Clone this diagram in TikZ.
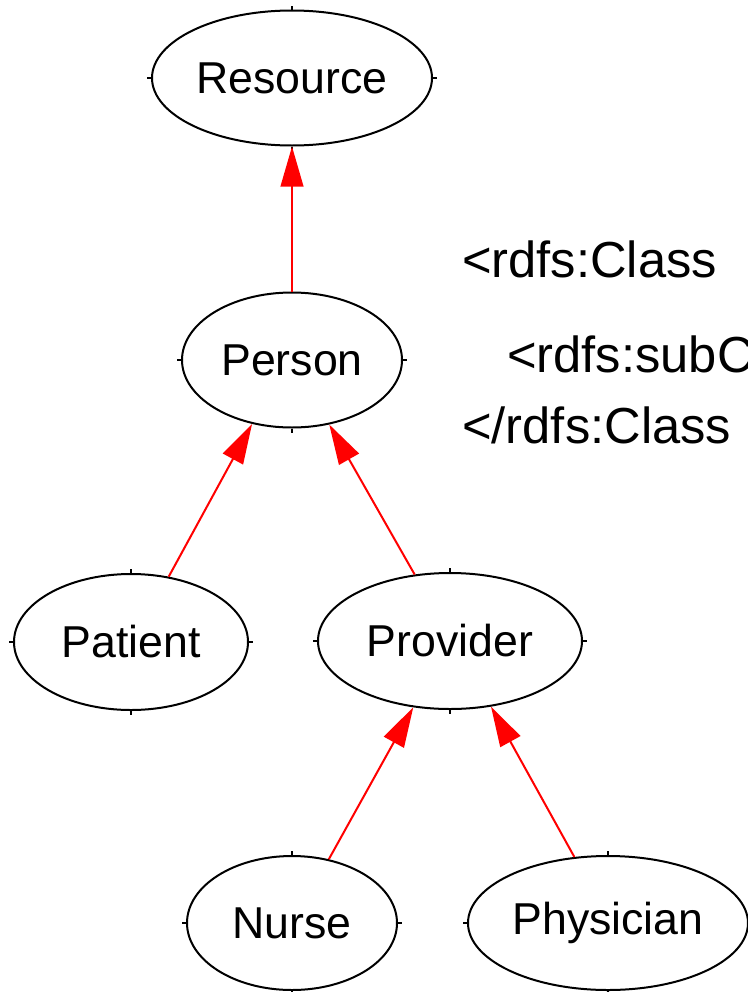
\documentclass[tikz,border=0pt]{standalone}
\usepackage{fontspec}
\setmainfont{Liberation Sans}
\usetikzlibrary{shapes.geometric,arrows.meta}
\begin{document}
\begin{tikzpicture}[x=0.75pt,y=-0.75pt,
  cls/.style={ellipse,draw=black,line width=1.5pt,inner sep=0pt,
    font=\fontsize{33.5}{40}\selectfont},
  subof/.style={draw=red,line width=1.5pt,-{Triangle[length=30pt,width=17pt]}},
  tickmark/.style={draw=black,line width=1.5pt},
  code/.style={font=\fontsize{38}{46}\selectfont,anchor=base west,inner sep=0pt}]
\useasboundingbox (0,0) rectangle (748,992);
\clip (0,0) rectangle (748,992);

% class hierarchy
\node[cls,minimum width=280*0.75pt,minimum height=135*0.75pt] (resource)  at (292,78)  {Resource};
\node[cls,minimum width=220*0.75pt,minimum height=135*0.75pt] (person)    at (292,360) {Person};
\node[cls,minimum width=234*0.75pt,minimum height=136*0.75pt] (patient)   at (131,642) {Patient};
\node[cls,minimum width=264*0.75pt,minimum height=136*0.75pt] (provider)  at (450,641) {Provider};
\node[cls,minimum width=210*0.75pt,minimum height=134*0.75pt] (nurse)     at (292,923) {Nurse};
\node[cls,minimum width=280*0.75pt,minimum height=134*0.75pt] (physician) at (608,923) {Physician};

% small marks at the compass points of each ellipse
\foreach \n in {resource,person,patient,provider,nurse,physician}{
  \draw[tickmark] (\n.north) -- ++(0,-4);
  \draw[tickmark] (\n.south) -- ++(0,4);
  \draw[tickmark] (\n.west) -- ++(-4,0);
  \draw[tickmark] (\n.east) -- ++(4,0);
}

% subclass-of edges
\draw[subof] (person.north) -- (resource.south);
\draw[subof] (patient.60) -- (person.238);
\draw[subof] (provider.118) -- (person.300);
\draw[subof] (nurse.60) -- (provider.241);
\draw[subof] (physician.117) -- (provider.302);

% RDF/XML snippet
\node[code] (line1) at (462,277) {<rdfs:Class};
\node[code] (line2) at (507,372) {<rdfs:subC};
\node[code] (line3) at (462,443) {</rdfs:Class};
\end{tikzpicture}
\end{document}
